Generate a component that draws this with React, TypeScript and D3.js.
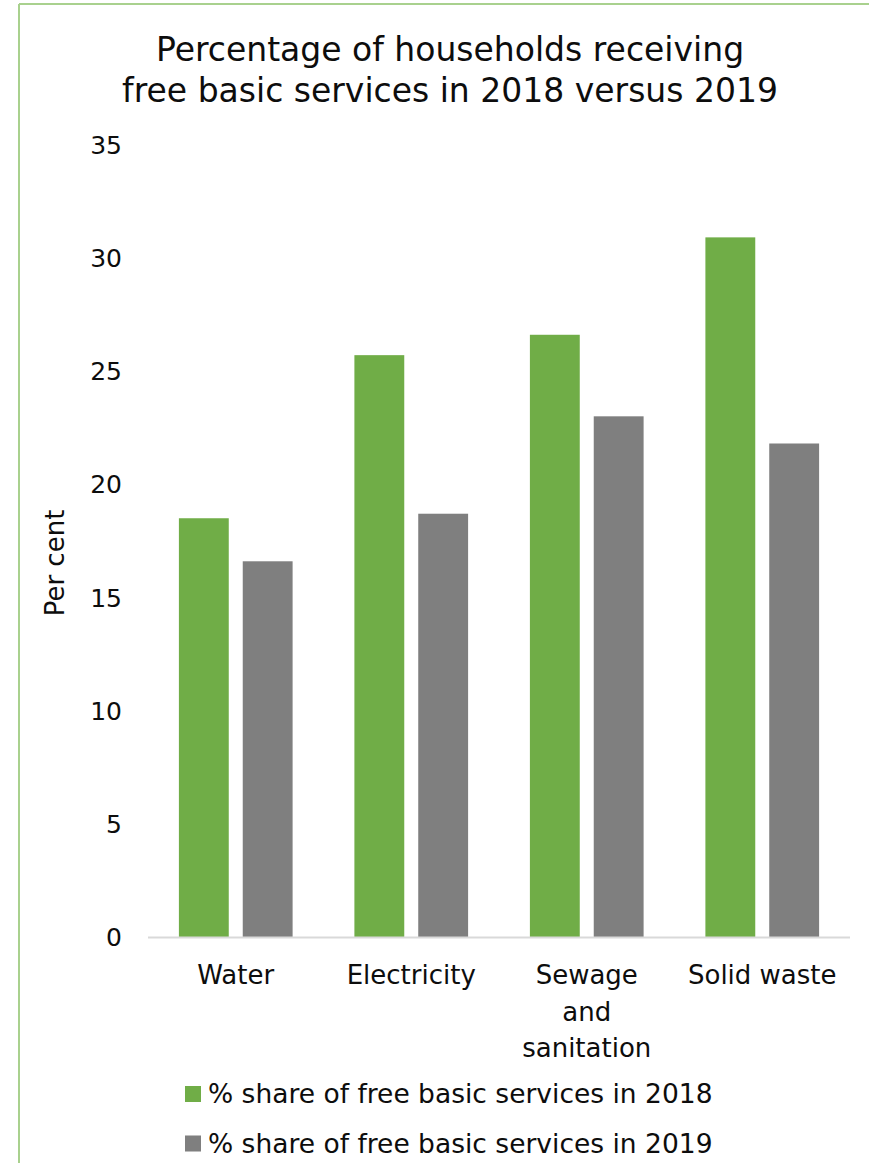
import React from "react";
import * as d3 from "d3";

const categories: string[][] = [["Water"], ["Electricity"], ["Sewage", "and", "sanitation"], ["Solid waste"]];
const categoryKeys = ["Water", "Electricity", "Sewage and sanitation", "Solid waste"];
const seriesNames = ["% share of free basic services in 2018", "% share of free basic services in 2019"];
const values2018 = [18.5, 25.7, 26.6, 30.9];
const values2019 = [16.6, 18.7, 23.0, 21.8];
const yTicks = [0, 5, 10, 15, 20, 25, 30, 35];
const titleLines = ["Percentage of households receiving", "free basic services in 2018 versus 2019"];
const seriesColors = ["#70ad47", "#7f7f7f"];

const W = 869;
const H = 1163;
const FONT = "'DejaVu Sans', sans-serif";

export default function App() {
  const x0 = d3.scaleBand<string>().domain(categoryKeys).range([148, 850]).padding(0);
  const x1 = d3
    .scaleBand<string>()
    .domain(["2018", "2019"])
    .range([0, x0.bandwidth()])
    .paddingInner(0.219)
    .paddingOuter(0.484);
  const y = d3.scaleLinear().domain([0, 35]).range([937.3, 144.5]);
  const series = [values2018, values2019];
  const keys = ["2018", "2019"];

  return (
    <svg
      width={W}
      height={H}
      style={{ position: "absolute", left: 0, top: 0, display: "block", background: "#fff" }}
      fontFamily={FONT}
    >
      <rect x={0} y={0} width={W} height={H} fill="#ffffff" />
      {/* border */}
      <line x1={19} y1={4} x2={W} y2={4} stroke="#a9d18e" strokeWidth={2} />
      <line x1={19} y1={4} x2={19} y2={H} stroke="#a9d18e" strokeWidth={2} />

      {/* title */}
      {titleLines.map((t, i) => (
        <text key={t} x={450} y={61 + i * 41} textAnchor="middle" fontSize={33} fill="#0d0d0d">
          {t}
        </text>
      ))}

      {/* y tick labels */}
      {yTicks.map((t) => (
        <text key={t} x={122} y={y(t)} dy="0.36em" textAnchor="end" fontSize={25} fill="#0d0d0d">
          {t}
        </text>
      ))}

      {/* y axis title */}
      <text
        transform={`translate(64, 563) rotate(-90)`}
        textAnchor="middle"
        fontSize={26}
        fill="#0d0d0d"
      >
        Per cent
      </text>

      {/* bars */}
      {categoryKeys.map((c, ci) => (
        <g key={c} transform={`translate(${x0(c)}, 0)`}>
          {series.map((vals, si) => (
            <rect
              key={si}
              x={x1(keys[si])}
              y={y(vals[ci])}
              width={x1.bandwidth()}
              height={y(0) - y(vals[ci])}
              fill={seriesColors[si]}
            />
          ))}
        </g>
      ))}

      {/* x axis line */}
      <line x1={148} x2={850} y1={937.5} y2={937.5} stroke="#d9d9d9" strokeWidth={2} />

      {/* category labels */}
      {categoryKeys.map((c, ci) => (
        <text key={c} x={(x0(c) as number) + x0.bandwidth() / 2} y={984} textAnchor="middle" fontSize={26} fill="#0d0d0d">
          {categories[ci].map((line, li) => (
            <tspan key={li} x={(x0(c) as number) + x0.bandwidth() / 2} dy={li === 0 ? 0 : 36.5}>
              {line}
            </tspan>
          ))}
        </text>
      ))}

      {/* legend */}
      {seriesNames.map((s, i) => (
        <g key={s} transform={`translate(0, ${i * 49.5})`}>
          <rect x={185} y={1086} width={16} height={16} fill={seriesColors[i]} />
          <text x={208} y={1103} fontSize={26.5} fill="#0d0d0d">
            {s}
          </text>
        </g>
      ))}
    </svg>
  );
}
